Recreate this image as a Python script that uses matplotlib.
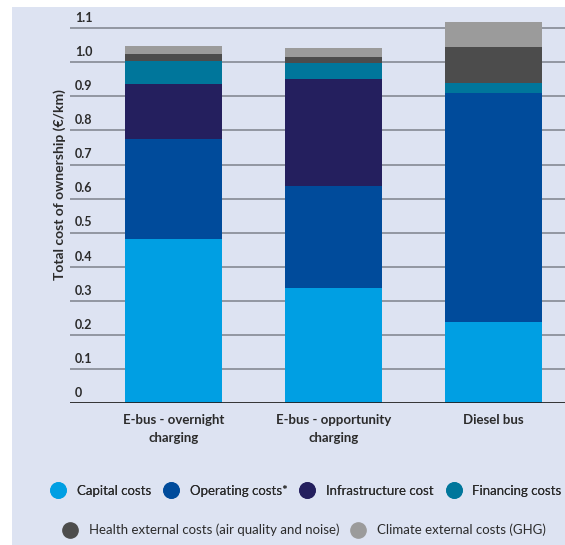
import matplotlib.pyplot as plt
from matplotlib.lines import Line2D
from matplotlib.patches import Rectangle
import matplotlib.transforms as mtransforms
import numpy as np

plt.rcParams['font.family'] = ['Lato', 'DejaVu Sans']

# data
CATEGORIES = ['E-bus - overnight\ncharging', 'E-bus - opportunity\ncharging', 'Diesel bus']
capital = [0.481, 0.337, 0.238]
operating = [0.293, 0.299, 0.671]
infrastructure = [0.161, 0.314, 0.0]
financing = [0.068, 0.047, 0.029]
health = [0.020, 0.018, 0.106]
climate = [0.024, 0.026, 0.073]
YTICKS = [0, 0.1, 0.2, 0.3, 0.4, 0.5, 0.6, 0.7, 0.8, 0.9, 1.0, 1.1]
YTICK_LABELS = ['0', '0.1', '0.2', '0.3', '0.4', '0.5', '0.6', '0.7', '0.8', '0.9', '1.0', '1.1']

SERIES = [
    ('Capital costs', capital, '#009fe3'),
    ('Operating costs*', operating, '#004b9b'),
    ('Infrastructure cost', infrastructure, '#241f5e'),
    ('Financing costs', financing, '#00769b'),
    ('Health external costs (air quality and noise)', health, '#4c4c4c'),
    ('Climate external costs (GHG)', climate, '#9b9b9b'),
]
BG = '#dde3f2'
TXT = '#2b2b2b'

W, H = 565, 545
fig = plt.figure(figsize=(W / 100, H / 100), dpi=100)
fig.patch.set_facecolor('white')
fig.add_artist(Rectangle((12 / W, 0), 1, 1 - 7 / H, transform=fig.transFigure,
                         facecolor=BG, edgecolor='none', zorder=-10))

ax = fig.add_axes([70 / W, (H - 403) / H, (W - 70) / W, (403 - 18) / H])
ax.set_facecolor('none')

x = np.arange(len(CATEGORIES))
bottom = np.zeros(len(CATEGORIES))
for name, vals, color in SERIES:
    ax.bar(x, vals, width=0.606, bottom=bottom, color=color, zorder=3)
    bottom += np.array(vals)

ax.set_xlim(-0.647, 2.45)
ax.set_ylim(0, 1.13)

# grid lines with labels sitting just above them
for v, lab in zip(YTICKS, YTICK_LABELS):
    if v == 0:
        ax.axhline(0, color='#222222', lw=2.0, zorder=4)
    else:
        ax.axhline(v, color='#8c919b', lw=1.3, zorder=1)
    trans = mtransforms.offset_copy(ax.get_yaxis_transform(), fig=fig, x=0, y=3, units='points')
    ax.text(0.01, v, lab, transform=trans, ha='left', va='bottom',
            fontsize=9, fontweight='bold', color=TXT)

ax.set_yticks([])
ax.set_xticks(x)
ax.set_xticklabels(CATEGORIES, fontsize=9.5, fontweight='bold', color=TXT, linespacing=1.6)
ax.tick_params(axis='x', length=0, pad=8)
for s in ax.spines.values():
    s.set_visible(False)

fig.text(60 / W, 1 - 185 / H, 'Total cost of ownership (€/km)', rotation=90,
         ha='center', va='center', fontsize=10, fontweight='bold', color=TXT)

handles = [Line2D([], [], marker='o', linestyle='none', markersize=11,
                  markerfacecolor=c, markeredgecolor=c) for _, _, c in SERIES]
labels = [n for n, _, _ in SERIES]

leg1 = fig.legend(handles[:4], labels[:4], loc='center left', ncol=4,
                  bbox_to_anchor=(52 / W, 1 - 491 / H), frameon=False,
                  fontsize=9.5, handletextpad=0.98, columnspacing=1.05,
                  borderaxespad=0, borderpad=0, handlelength=0.9)
leg2 = fig.legend(handles[4:], labels[4:], loc='center left', ncol=2,
                  bbox_to_anchor=(64 / W, 1 - 530 / H), frameon=False,
                  fontsize=9.5, handletextpad=0.98, columnspacing=1.0,
                  borderaxespad=0, borderpad=0, handlelength=0.9)
for leg in (leg1, leg2):
    for t in leg.get_texts():
        t.set_color(TXT)
fig.add_artist(leg1)

fig.savefig('out.png', dpi=100)
